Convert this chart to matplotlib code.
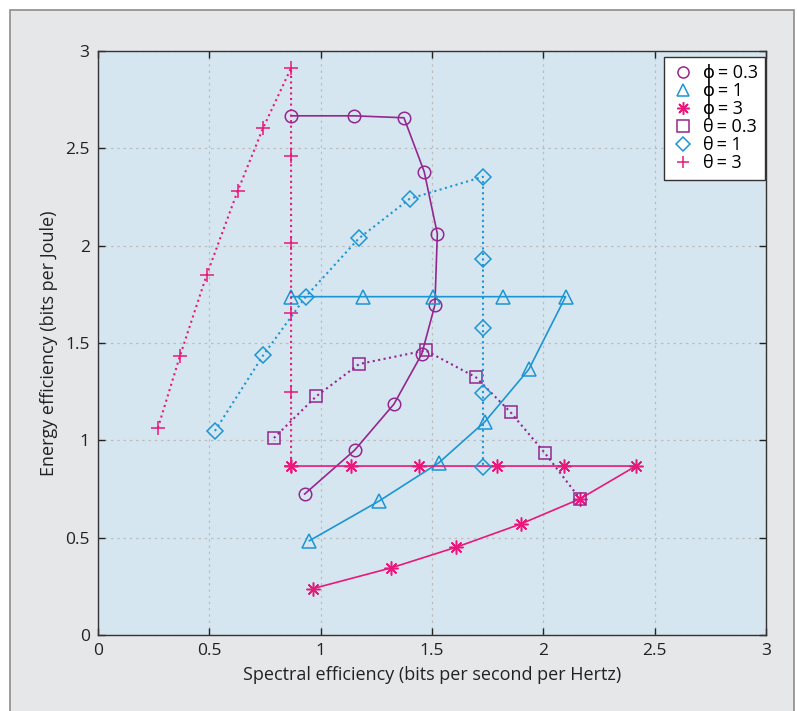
import matplotlib
matplotlib.use("Agg")
import matplotlib.pyplot as plt
from matplotlib.patches import Rectangle
from matplotlib.lines import Line2D

plt.rcParams['font.family'] = ['Open Sans', 'DejaVu Sans']

# phi = 0.3 (circles, solid)
phi03_x = [0.867, 1.151, 1.374, 1.465, 1.524, 1.513, 1.454, 1.329, 1.153, 0.928]
phi03_y = [2.667, 2.667, 2.657, 2.380, 2.061, 1.695, 1.443, 1.186, 0.950, 0.724]

# phi = 1 (triangles, solid)
phi1_x = [0.867, 1.189, 1.503, 1.820, 2.100, 1.935, 1.738, 1.531, 1.262, 0.949]
phi1_y = [1.738, 1.738, 1.738, 1.738, 1.738, 1.365, 1.096, 0.885, 0.688, 0.484]

# phi = 3 (asterisks, solid)
phi3_x = [0.865, 1.136, 1.441, 1.790, 2.094, 2.416, 2.164, 1.898, 1.606, 1.314, 0.964]
phi3_y = [0.868, 0.868, 0.868, 0.868, 0.868, 0.868, 0.699, 0.570, 0.450, 0.344, 0.238]

# theta = 0.3 (squares, dotted)
th03_x = [0.790, 0.980, 1.173, 1.471, 1.697, 1.853, 2.006, 2.164]
th03_y = [1.012, 1.226, 1.392, 1.462, 1.324, 1.144, 0.936, 0.701]

# theta = 1 (diamonds, dotted)
th1_x = [0.525, 0.742, 0.933, 1.171, 1.400, 1.729, 1.729, 1.729, 1.729, 1.729]
th1_y = [1.048, 1.437, 1.738, 2.037, 2.241, 2.354, 1.931, 1.575, 1.241, 0.864]

# theta = 3 (plus, dotted)
th3_x = [0.269, 0.368, 0.488, 0.627, 0.742, 0.867, 0.867, 0.867, 0.867, 0.867, 0.867]
th3_y = [1.063, 1.433, 1.849, 2.280, 2.606, 2.912, 2.460, 2.015, 1.652, 1.248, 0.868]

xticks = [0, 0.5, 1, 1.5, 2, 2.5, 3]
yticks = [0, 0.5, 1, 1.5, 2, 2.5, 3]
ticklabels = ['0', '0.5', '1', '1.5', '2', '2.5', '3']

purple = '#93278F'
blue = '#1C95D4'
pink = '#E8197A'

fig = plt.figure(figsize=(7.97, 7.11), dpi=100)
fig.patch.set_facecolor('white')
panel = Rectangle((10/797, -0.05), 784/797, 1 - 10/711 + 0.05,
                  transform=fig.transFigure, facecolor='#E6E7E8',
                  edgecolor='#8C8C8C', linewidth=1.2, zorder=-10)
fig.patches.append(panel)

ax = fig.add_axes([98/797, 1 - 635/711, 668/797, 584/711])
ax.set_zorder(5)
ax.set_facecolor('#D6E6F0')

# (x, y, color, linestyle, marker, markersize, label)
series = [
    (phi03_x, phi03_y, purple, '-', 'o', 9, 'ϕ\u2009= 0.3'),
    (phi1_x, phi1_y, blue, '-', '^', 10, 'ϕ\u2009= 1'),
    (phi3_x, phi3_y, pink, '-', (8, 2, 0), 10, 'ϕ\u2009= 3'),
    (th03_x, th03_y, purple, ':', 's', 9, 'θ\u2009= 0.3'),
    (th1_x, th1_y, blue, ':', 'D', 8, 'θ\u2009= 1'),
    (th3_x, th3_y, pink, ':', '+', 10, 'θ\u2009= 3'),
]

handles = []
for x, y, c, ls, mk, m, lab in series:
    lw = 1.2 if ls == '-' else 1.5
    ax.plot(x, y, linestyle=ls, color=c, lw=lw, marker=mk, ms=m,
            mfc='none', mec=c, mew=1.1)
    handles.append(Line2D([], [], linestyle='none', marker=mk, ms=m - 1,
                          mfc='none', mec=c, mew=1.1, label=lab))

ax.set_xlim(0, 3)
ax.set_ylim(0, 3)
ax.set_xticks(xticks)
ax.set_xticklabels(ticklabels)
ax.set_yticks(yticks)
ax.set_yticklabels(ticklabels)
ax.tick_params(direction='in', top=True, right=True, length=5, width=1,
               labelsize=12.5, colors='#222222', pad=6)
ax.grid(True, linestyle=(0, (2, 3)), color='#BDBDBD', linewidth=0.9)
for s in ax.spines.values():
    s.set_color('#333333')
    s.set_linewidth(1.0)

ax.set_xlabel('Spectral efficiency (bits per second per Hertz)', fontsize=13,
              color='#222222', labelpad=5)
ax.set_ylabel('Energy efficiency (bits per Joule)', fontsize=13,
              color='#222222', labelpad=5)

leg = ax.legend(handles=handles, loc='upper right', bbox_to_anchor=(0.999, 0.99),
                borderaxespad=0, fontsize=13, fancybox=False, framealpha=1,
                edgecolor='#333333', handlelength=1.2, handletextpad=0.5,
                borderpad=0.42, labelspacing=0.0, numpoints=1)
leg.get_frame().set_linewidth(1.0)

fig.savefig('out.png', dpi=100, facecolor=fig.get_facecolor())
